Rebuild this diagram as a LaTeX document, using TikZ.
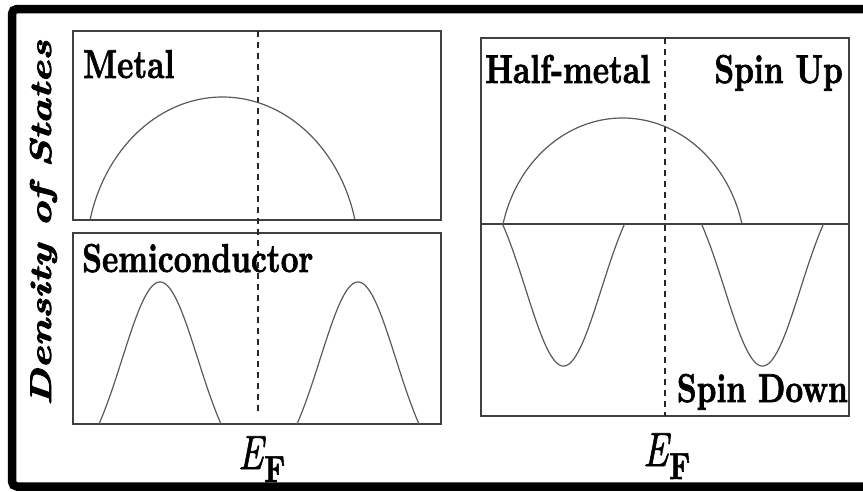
\documentclass[tikz,border=0pt]{standalone}
\usepackage{graphicx}
\usepackage{fontspec}
\newfontfamily\lblfont{lmroman10-bold.otf}[FakeBold=1.8]
\newfontfamily\ylabfont{lmroman10-bolditalic.otf}[FakeBold=2.5]
\newfontfamily\efont{lmroman10-italic.otf}[FakeBold=1.4]
\begin{document}
\begin{tikzpicture}[x=1pt,y=-1pt,
  panel/.style={draw=black!75,line width=1.4pt},
  dos/.style={draw=black!65,line width=1.2pt,line join=round},
  fermi/.style={draw=black!85,line width=1.2pt,dash pattern=on 6pt off 5pt},
  lbl/.style={inner sep=0pt,font=\lblfont\fontsize{31}{31}\selectfont},
  frame/.style={draw=black,line width=8.5pt,rounded corners=5pt}]
\useasboundingbox (0,0) rectangle (863,491);
\newcommand{\vs}[1]{\scalebox{1}[1.3]{#1}}
\newcommand{\EFlabel}{\scalebox{1}[1.3]{\efont\fontsize{37}{37}\selectfont E\kern1pt\raisebox{-10pt}{\lblfont\fontsize{29}{29}\selectfont F}}}
% outer frame
\draw[frame] (900,9) -- (12,9) -- (12,486.5) -- (900,486.5);
% left panels
\draw[panel] (73,31) rectangle (441,220);
\draw[panel] (73,233) rectangle (441,424);
\coordinate (lt) at (258,31);
\coordinate (lb) at (258,412);
\draw[fermi] (lt) -- (lb);
% metal band
\draw[dos] plot[domain=-1:1,samples=101,smooth] ({222.5+132.5*\x},{220-123*(sqrt(1-(0.97*\x)^2)-0.243)/0.757});
% semiconductor bands
\foreach \c in {160,358}{
  \draw[dos] plot[domain=-1:1,samples=81,smooth] ({\c+61*\x},{424-142*(exp(-1.3*\x*\x)-0.2725)/0.7275});
}
% right panel
\draw[panel] (481,38) rectangle (849,416);
\draw[panel] (481,224) -- (849,224);
\coordinate (rt) at (665,38);
\coordinate (rb) at (665,416);
\draw[fermi] (rt) -- (rb);
\draw[dos] plot[domain=-1:1,samples=101,smooth] ({622.5+119.5*\x},{224-106*(sqrt(1-(0.97*\x)^2)-0.243)/0.757});
\foreach \c in {563.5,762.5}{
  \draw[dos] plot[domain=-1:1,samples=81,smooth] ({\c+61*\x},{224+142*(exp(-1.3*\x*\x)-0.2725)/0.7275});
}
% labels
\node[lbl,anchor=base west] (metal) at (83,78) {\vs{Metal}};
\node[lbl,anchor=base west] (semi) at (82,272) {\vs{Semiconductor}};
\node[lbl,anchor=base west] (half) at (485,83) {\vs{Half-metal}};
\node[lbl,anchor=base east] (up) at (843,83) {\vs{Spin Up}};
\node[lbl,anchor=base east] (down) at (848,402) {\vs{Spin Down}};
\node[inner sep=0pt,rotate=90,anchor=base] (ylab) at (51,223)
  {\scalebox{1.4}[1]{\ylabfont\fontsize{30}{30}\selectfont Density of States}};
\node[inner sep=0pt,anchor=base west] (efl) at (238,469) {\EFlabel};
\node[inner sep=0pt,anchor=base west] (efr) at (643,466) {\EFlabel};
\end{tikzpicture}
\end{document}
